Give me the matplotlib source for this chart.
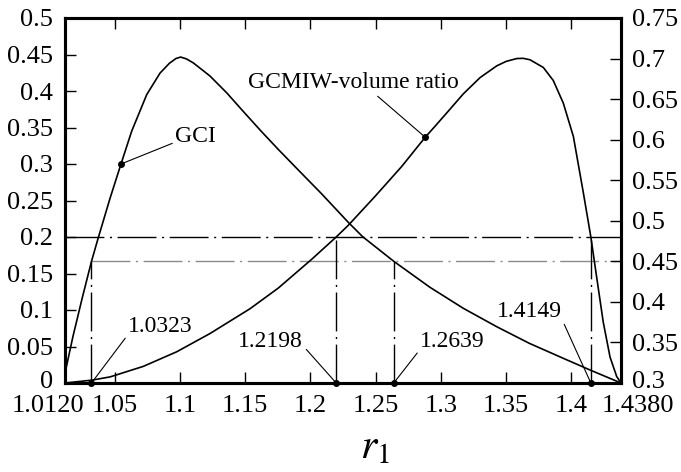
import matplotlib
matplotlib.use("Agg")
import matplotlib.pyplot as plt
from matplotlib.transforms import ScaledTranslation

plt.rcParams['font.family'] = ['Liberation Serif', 'DejaVu Serif']
plt.rcParams['mathtext.fontset'] = 'stix'

# ---- data ----
gci_r1 = [1.012, 1.0128, 1.018, 1.025, 1.0323, 1.0375, 1.0465, 1.0549, 1.0631, 1.0746,
          1.0848, 1.0920, 1.0970, 1.1006, 1.1050, 1.1103, 1.1231, 1.1359, 1.1486, 1.1620,
          1.1754, 1.1920, 1.2087, 1.2291, 1.2400, 1.2639, 1.2917, 1.3172, 1.3428, 1.3677,
          1.3938, 1.4143, 1.4280, 1.438]
gci_val = [0.0, 0.02, 0.063, 0.115, 0.1667, 0.199, 0.253, 0.300, 0.345, 0.395,
           0.4245, 0.438, 0.4445, 0.4465, 0.4440, 0.4385, 0.4205, 0.3975, 0.3720, 0.3455,
           0.3200, 0.2895, 0.2590, 0.2200, 0.2005, 0.1667, 0.1310, 0.1023, 0.0771, 0.0544,
           0.0338, 0.0178, 0.0075, 0.0]

vol_r1 = [1.012, 1.0325, 1.0465, 1.072, 1.0976, 1.1231, 1.1537, 1.1754, 1.201, 1.2198,
          1.2291, 1.2495, 1.2700, 1.2880, 1.2955, 1.3045, 1.3172, 1.3300, 1.3428, 1.3500,
          1.3581, 1.3630, 1.3683, 1.3785, 1.3861, 1.3938, 1.4015, 1.4091, 1.4149, 1.4194,
          1.4244, 1.4296, 1.4347, 1.438]
vol_val = [0.3, 0.3035, 0.3075, 0.3205, 0.3385, 0.3610, 0.3915, 0.4170, 0.4525, 0.48,
           0.4945, 0.5300, 0.5670, 0.6030, 0.6165, 0.6330, 0.6565, 0.6765, 0.6910, 0.6965,
           0.7000, 0.7003, 0.6985, 0.6890, 0.6730, 0.6450, 0.6040, 0.5350, 0.48, 0.4300,
           0.3750, 0.3320, 0.3080, 0.3]

gci_level = 1 / 6          # grey dash-dot line (left axis)
vol_level_left = 0.2       # black dash-dot line (left axis) = 0.48 on right axis
gci_cross = [1.0323, 1.2639]
vol_cross = [1.2198, 1.4149]
cross_labels = ['1.0323', '1.2198', '1.2639', '1.4149']

x_ticks = [1.012, 1.05, 1.1, 1.15, 1.2, 1.25, 1.3, 1.35, 1.4, 1.438]
x_ticklabels = ['1.0120', '1.05', '1.1', '1.15', '1.2', '1.25', '1.3', '1.35', '1.4', '1.4380']
yl_ticks = [0, 0.05, 0.1, 0.15, 0.2, 0.25, 0.3, 0.35, 0.4, 0.45, 0.5]
yl_ticklabels = ['0', '0.05', '0.1', '0.15', '0.2', '0.25', '0.3', '0.35', '0.4', '0.45', '0.5']
yr_ticks = [0.3, 0.35, 0.4, 0.45, 0.5, 0.55, 0.6, 0.65, 0.7, 0.75]
yr_ticklabels = ['0.3', '0.35', '0.4', '0.45', '0.5', '0.55', '0.6', '0.65', '0.7', '0.75']

gci_mark = (1.0549, 0.300)
vol_mark = (1.2880, 0.6030)

# ---- figure ----
fig = plt.figure(figsize=(6.81, 4.72), dpi=100)
ax = fig.add_axes([65/681, 1-383/472, 556/681, 365/472])
ax2 = ax.twinx()

ax.set_xlim(1.012, 1.438)
ax.set_ylim(0, 0.5)
ax2.set_ylim(0.3, 0.75)

tick_fs = 19
ann_fs = 17

ax.plot(gci_r1, gci_val, color='black', lw=1.2, zorder=3, solid_joinstyle='round')
ax2.plot(vol_r1, vol_val, color='black', lw=1.2, zorder=3, solid_joinstyle='round')

dash = (0, (28, 4, 1.5, 4))
ax.plot([1.012, 1.438], [vol_level_left, vol_level_left], color='black', lw=1.0, ls=dash, zorder=2)
ax.plot([gci_cross[0], 1.438], [gci_level, gci_level], color='#8a8a8a', lw=1.0, ls=dash, zorder=2)
for xc in gci_cross:
    ax.plot([xc, xc], [0, gci_level], color='black', lw=1.0, ls=dash, zorder=2)
for xc in vol_cross:
    ax.plot([xc, xc], [0, vol_level_left], color='black', lw=1.0, ls=dash, zorder=2)

# markers
all_cross = sorted(gci_cross + vol_cross)
ax.plot(all_cross, [0] * len(all_cross), 'o', color='black', ms=4, clip_on=False, zorder=5)
ax.plot([gci_mark[0]], [gci_mark[1]], 'o', color='black', ms=4, zorder=5)
ax2.plot([vol_mark[0]], [vol_mark[1]], 'o', color='black', ms=4, zorder=5)

arrow = dict(arrowstyle='-', color='black', lw=0.8, shrinkA=0, shrinkB=0)
ax.annotate('GCI', xy=gci_mark, xytext=(1.0963, 0.337), ha='left', va='center',
            fontsize=ann_fs, arrowprops=dict(arrow, relpos=(0, 0.25)))
ax2.annotate('GCMIW-volume ratio', xy=vol_mark, xytext=(1.1522, 0.6699), ha='left', va='center',
             fontsize=ann_fs, arrowprops=dict(arrow, relpos=(0.6, 0.0)))

label_pos = {'1.0323': (1.0603, 0.078, 'left', (0, 0.1)),
             '1.2198': (1.1944, 0.0575, 'right', (1.05, 0.1)),
             '1.2639': (1.2840, 0.0575, 'left', (0, 0.1)),
             '1.4149': (1.3928, 0.0986, 'right', (1.0, 0.1))}
for lab, xc in zip(cross_labels, all_cross):
    tx, ty, ha, rp = label_pos[lab]
    ax.annotate(lab, xy=(xc, 0), xytext=(tx, ty), ha=ha, va='center', fontsize=ann_fs,
                arrowprops=dict(arrow, relpos=rp))

# ticks
ax.set_xticks(x_ticks)
ax.set_xticklabels(x_ticklabels, fontsize=tick_fs)
ax.set_yticks(yl_ticks)
ax.set_yticklabels(yl_ticklabels, fontsize=tick_fs)
ax2.set_yticks(yr_ticks)
ax2.set_yticklabels(yr_ticklabels, fontsize=tick_fs)

ax.tick_params(axis='x', direction='in', length=8, width=1, top=True, pad=8.5)
ax.tick_params(axis='y', direction='in', length=8, width=1, right=False, pad=8.5)
ax2.tick_params(axis='y', direction='in', length=8, width=1, pad=8)

xl = ax.get_xticklabels()
xl[0].set_transform(xl[0].get_transform() + ScaledTranslation(-0.17, 0, fig.dpi_scale_trans))
xl[-1].set_transform(xl[-1].get_transform() + ScaledTranslation(0.17, 0, fig.dpi_scale_trans))
# lift the bottom-most y labels slightly so they clear the x labels
for lab in (ax.get_yticklabels()[0], ax2.get_yticklabels()[0]):
    lab.set_transform(lab.get_transform() + ScaledTranslation(0, 0.035, fig.dpi_scale_trans))

for a in (ax, ax2):
    for s in a.spines.values():
        s.set_linewidth(2.2)

fig.text(375/681, 1 - 458/472, r'$r_1$', fontsize=30, ha='center', va='baseline')

fig.savefig('out.png', dpi=100)
